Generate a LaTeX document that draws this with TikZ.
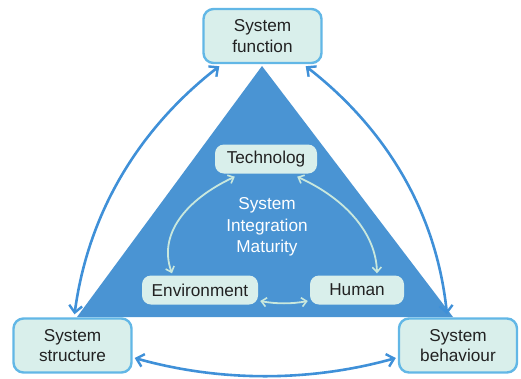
\documentclass[tikz,border=0pt]{standalone}
\usepackage{fontspec}
\setmainfont{Liberation Sans}
\usetikzlibrary{arrows.meta}

\definecolor{triblue}{HTML}{4A94D3}
\definecolor{boxfill}{HTML}{D9EFEB}
\definecolor{boxline}{HTML}{62B7E6}
\definecolor{linkblue}{HTML}{3F90D8}
\definecolor{innerlink}{HTML}{C9E8DD}
\definecolor{ink}{HTML}{222222}

\tikzset{
  outerbox/.style={draw=boxline, line width=2.4pt, fill=boxfill, rounded corners=10pt,
    minimum width=118pt, minimum height=54pt, align=center, text=ink,
    font=\fontsize{17.2}{20.5}\selectfont, inner sep=2pt},
  innerbox/.style={fill=boxfill, rounded corners=9pt,
    minimum height=29pt, align=center, text=ink,
    font=\fontsize{17.2}{20.5}\selectfont, inner sep=2pt},
  outerlink/.style={draw=linkblue, line width=2.6pt,
    {Straight Barb[length=7pt,width=13pt,line width=2.4pt]}-{Straight Barb[length=7pt,width=13pt,line width=2.4pt]}},
  innerlink/.style={draw=innerlink, line width=1.8pt,
    {Straight Barb[length=5pt,width=9pt,line width=1.6pt]}-{Straight Barb[length=5pt,width=9pt,line width=1.6pt]}},
}

\begin{document}
\begin{tikzpicture}[x=1pt,y=-1pt]
  \useasboundingbox (0,0) rectangle (521,378);

  % central triangle
  \fill[triblue] (262,66) -- (453,317) -- (77,317) -- cycle;

  % outer boxes
  \node[outerbox] (fn) at (262.5,36) {System\\function};
  \node[outerbox] (st) at (72.5,345.5) {System\\structure};
  \node[outerbox] (bh) at (458,345.5) {System\\behaviour};

  % inner boxes
  \node[innerbox, minimum width=102pt] (tech) at (266,159) {Technolog};
  \node[innerbox, minimum width=116pt] (env) at (200,290) {Environment};
  \node[innerbox, minimum width=94pt] (hum) at (357,290) {Human};

  \node[text=white, align=center, font=\fontsize{17.2}{21.5}\selectfont] (sim) at (267,227)
    {System\\Integration\\Maturity};

  % outer connectors (shifts are in page units: positive yshift goes up)
  \draw[outerlink] ([xshift=17pt,yshift=-2pt]fn.south west)
    .. controls (150,120) and (90,200) .. ([xshift=2pt,yshift=3pt]st.north);
  \draw[outerlink] ([xshift=-17pt,yshift=-2pt]fn.south east)
    .. controls (375,120) and (435,200) .. ([xshift=-11pt,yshift=3pt]bh.north);
  \draw[outerlink] ([xshift=2pt,yshift=-12.5pt]st.east)
    .. controls (220,382) and (310,382) .. ([xshift=-2pt,yshift=-12.5pt]bh.west);

  % inner connectors
  \draw[innerlink] ([xshift=20pt,yshift=-3pt]tech.south west)
    .. controls (185,200) and (158,235) .. ([xshift=-28pt,yshift=2pt]env.north);
  \draw[innerlink] ([xshift=-20pt,yshift=-3pt]tech.south east)
    .. controls (348,200) and (376,235) .. ([xshift=20pt,yshift=2pt]hum.north);
  \draw[innerlink] ([xshift=2pt,yshift=-11pt]env.east)
    .. controls (276,304) and (292,304) .. ([xshift=-2pt,yshift=-11pt]hum.west);
\end{tikzpicture}
\end{document}
